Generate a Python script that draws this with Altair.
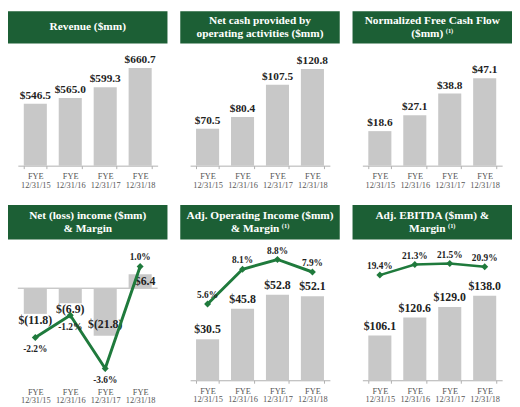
import altair as alt
import pandas as pd

# ---------------- data ----------------
years = ["FYE 12/31/15", "FYE 12/31/16", "FYE 12/31/17", "FYE 12/31/18"]
revenue = [546.5, 565.0, 599.3, 660.7]
net_cash = [70.5, 80.4, 107.5, 120.8]
nfcf = [18.6, 27.1, 38.8, 47.1]
net_income = [-11.8, -6.9, -21.8, 6.4]
net_margin = [-2.2, -1.2, -3.6, 1.0]
adj_op = [30.5, 45.8, 52.8, 52.1]
adj_op_margin = [5.6, 8.1, 8.8, 7.9]
ebitda = [106.1, 120.6, 129.0, 138.0]
ebitda_margin = [19.4, 21.3, 21.5, 20.9]

titles = {
    "rev": ["Revenue ($mm)"],
    "cash": ["Net cash provided by", "operating activities ($mm)"],
    "nfcf": ["Normalized Free Cash Flow", "($mm)"],
    "ni": ["Net (loss) income ($mm)", "& Margin"],
    "op": ["Adj. Operating Income ($mm)", "& Margin"],
    "ebitda": ["Adj. EBITDA ($mm) &", "Margin"],
}
footnote = "(1)"
has_footnote = {"rev": False, "cash": False, "nfcf": True, "ni": False, "op": True, "ebitda": True}

# ---------------- style ----------------
GREEN = "#1c5f35"
LINE_GREEN = "#1f7a3c"
BAR_GRAY = "#c8c8c8"
AXIS_GRAY = "#b0b0b0"
FONT = "Liberation Serif"
W = 162
H_TOP = 157
H_BOT = 178
HDR_TOP = 33
HDR_BOT = 35
LH = 13
TFS = 11.5
SUPFS = 6.5

# Times-bold advance widths (per 1000 em) used to centre title + superscript
CW = {" ": 250, "&": 833, "(": 333, ")": 333, "$": 500, "1": 500, "M": 944,
      "a": 500, "g": 500, "i": 278, "m": 833, "n": 556, "r": 444}


def text_w(s, fs):
    return sum(CW.get(c, 500) for c in s) * fs / 1000.0


def money(v):
    return f"${v:.1f}" if v >= 0 else f"$({abs(v):.1f})"


def pct(v):
    return f"{v:.1f}%"


def x_enc(show_domain=True):
    return alt.X(
        "year:N",
        sort=years,
        scale=alt.Scale(range=[10, 152], paddingInner=0.34, paddingOuter=0.17),
        axis=alt.Axis(
            title=None,
            labelExpr="isValid(datum.value) ? split(datum.value, ' ') : ''",
            labelAngle=0,
            labelFont=FONT,
            labelFontSize=8.5,
            labelColor="#555555",
            labelLineHeight=9,
            labelPadding=3 if show_domain else 7,
            labelOverlap=False,
            labelBaseline="top",
            tickSize=3,
            ticks=show_domain,
            domain=show_domain,
            tickColor=AXIS_GRAY,
            domainColor=AXIS_GRAY,
            tickBand="extent",
        ),
    )


def header(key, hh):
    lines = titles[key]
    d = pd.DataFrame({"k": [0]})
    out = [
        alt.Chart(d).mark_rect(color=GREEN).encode(
            x=alt.value(0), x2=alt.value(W), y=alt.value(0), y2=alt.value(hh)
        )
    ]
    n = len(lines)
    for i, line in enumerate(lines):
        y = hh / 2 - (n - 1) * LH / 2 + i * LH
        style = dict(color="white", font=FONT, fontWeight="bold", baseline="middle")
        if has_footnote[key] and i == n - 1:
            w_main = text_w(line, TFS)
            w_sup = text_w(footnote, SUPFS)
            gap = 2.5
            start = W / 2 - (w_main + gap + w_sup) / 2
            out.append(
                alt.Chart(d).mark_text(text=line, fontSize=TFS, align="left", **style)
                .encode(x=alt.value(start), y=alt.value(y))
            )
            out.append(
                alt.Chart(d).mark_text(text=footnote, fontSize=SUPFS, align="left", **style)
                .encode(x=alt.value(start + w_main + gap), y=alt.value(y - 3))
            )
        else:
            out.append(
                alt.Chart(d).mark_text(text=line, fontSize=TFS, align="center", **style)
                .encode(x=alt.value(W / 2), y=alt.value(y))
            )
    return out


def simple_panel(values, key, dom):
    df = pd.DataFrame({"year": years, "value": values, "label": [money(v) for v in values]})
    ysc = alt.Scale(domain=dom, zero=False, nice=False)
    x = x_enc()
    bars = alt.Chart(df).mark_bar(color=BAR_GRAY).encode(
        x=x, y=alt.Y("value:Q", scale=ysc, axis=None), y2=alt.datum(dom[0])
    )
    labels = alt.Chart(df).mark_text(
        font=FONT, fontWeight="bold", fontSize=11.5, color="#222222", baseline="bottom", dy=-3
    ).encode(x=x, y=alt.Y("value:Q", scale=ysc, axis=None), text="label:N")
    return alt.layer(*header(key, HDR_TOP), bars, labels).properties(width=W, height=H_TOP)


def margin_panel(values, margins, key, bdom, mdom, base_zero=False, line_w=3):
    df = pd.DataFrame({
        "year": years,
        "value": values,
        "margin": margins,
        "label": [money(v) for v in values],
        "mlabel": [pct(m) for m in margins],
    })
    ysc = alt.Scale(domain=bdom, zero=False, nice=False)
    msc = alt.Scale(domain=mdom, zero=False, nice=False)
    x = x_enc(show_domain=not base_zero)
    yv = alt.Y("value:Q", scale=ysc, axis=None)
    ym = alt.Y("margin:Q", scale=msc, axis=None)
    lab_style = dict(font=FONT, fontWeight="bold", fontSize=12, color="#222222")
    mlab_style = dict(font=FONT, fontWeight="bold", fontSize=9.5, color="#222222", baseline="middle")
    layers = header(key, HDR_BOT)
    if base_zero:
        zero = alt.Chart(pd.DataFrame({"z": [0]})).mark_rule(color=AXIS_GRAY, strokeWidth=1).encode(
            y=alt.Y(datum=0, scale=ysc, axis=None), x=alt.value(10), x2=alt.value(152)
        )
        bars = alt.Chart(df).mark_bar(color=BAR_GRAY).encode(x=x, y=yv, y2=alt.datum(0))
        # short negative bars: label just below the bar end; long ones: inside the bar end
        short_neg = alt.Chart(df).transform_filter("datum.value < 0 && datum.value > -15").mark_text(
            baseline="top", dy=1, **lab_style
        ).encode(x=x, y=yv, text="label:N")
        long_neg = alt.Chart(df).transform_filter("datum.value <= -15").mark_text(
            baseline="bottom", dy=-5, **lab_style
        ).encode(x=x, y=yv, text="label:N")
        pos_lab = alt.Chart(df).transform_filter("datum.value >= 0").mark_text(
            baseline="top", dy=2, dx=5, **lab_style
        ).encode(x=x, y=yv, text="label:N")
        layers += [zero, bars, short_neg, long_neg, pos_lab]
    else:
        bars = alt.Chart(df).mark_bar(color=BAR_GRAY).encode(x=x, y=yv, y2=alt.datum(bdom[0]))
        lab = alt.Chart(df).mark_text(baseline="bottom", dy=-3, **lab_style).encode(
            x=x, y=yv, text="label:N"
        )
        layers += [bars, lab]

    line = alt.Chart(df).mark_line(color=LINE_GREEN, strokeWidth=line_w).encode(x=x, y=ym)
    pts = alt.Chart(df).mark_point(
        shape="diamond", filled=True, size=50, color=LINE_GREEN, opacity=1
    ).encode(x=x, y=ym)
    layers += [line, pts]
    if base_zero:
        mneg = alt.Chart(df).transform_filter("datum.margin < 0").mark_text(
            dy=12, **mlab_style
        ).encode(x=x, y=ym, text="mlabel:N")
        mpos = alt.Chart(df).transform_filter("datum.margin >= 0").mark_text(
            dy=-10, **mlab_style
        ).encode(x=x, y=ym, text="mlabel:N")
        layers += [mneg, mpos]
    else:
        mlab = alt.Chart(df).mark_text(dy=-9, **mlab_style).encode(x=x, y=ym, text="mlabel:N")
        layers.append(mlab)
    return alt.layer(*layers).resolve_scale(y="independent").properties(width=W, height=H_BOT)


p1 = simple_panel(revenue, "rev", [348.6, 842.6])
p2 = simple_panel(net_cash, "cash", [39.4, 169.5])
p3 = simple_panel(nfcf, "nfcf", [0, 83.2])
p4 = margin_panel(net_income, net_margin, "ni", [-42.3, 38.2], [-4.13, 3.77], base_zero=True, line_w=3)
p5 = margin_panel(adj_op, adj_op_margin, "op", [10, 97.7], [0.12, 12.71], line_w=3)
p6 = margin_panel(ebitda, ebitda_margin, "ebitda", [70, 211.1], [0.42, 32.03], line_w=2.5)

top = alt.hconcat(p1, p2, p3, spacing=13)
bot = alt.hconcat(p4, p5, p6, spacing=13)

chart = (
    alt.vconcat(top, bot, spacing=16)
    .properties(padding=0, background="white")
    .configure_view(stroke=None)
)

chart.save("out.html", embed_options={"renderer": "svg", "actions": False})
